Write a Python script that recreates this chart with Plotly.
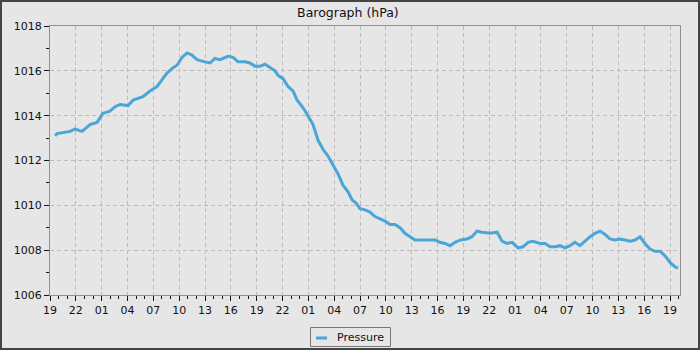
import plotly.graph_objects as go
import pandas as pd

start = pd.Timestamp("2024-01-01 19:00")

# hours since start
hours = [0.6, 0.81, 2.33, 2.91, 3.72, 4.65, 5.46, 6.15, 6.96, 7.55, 8.13, 9.06, 9.65, 10.8, 11.61,
         12.42, 13.0, 13.59, 14.16, 14.75, 15.33, 15.92, 16.49, 17.07, 18.0, 18.59, 19.16, 19.74,
         20.67, 21.26, 21.83, 22.65, 23.22, 23.81, 24.39, 24.96, 25.55, 26.13, 26.48, 27.06,
         27.65, 28.22, 28.68, 29.39, 29.96, 30.54, 31.13, 31.7, 32.28, 32.87, 33.45, 34.02,
         34.61, 35.07, 35.54, 36.0, 36.59, 37.16, 37.74, 38.33, 38.9, 39.48, 40.07, 40.65,
         41.22, 41.81, 42.39, 43.55, 44.72, 45.29, 45.87, 46.46, 47.03, 47.61, 48.42, 49.0,
         49.59, 50.16, 51.09, 51.92, 52.49, 53.07, 53.66, 54.35, 54.93, 55.52, 56.09, 56.9,
         57.48, 58.07, 58.65, 59.22, 59.81, 60.39, 60.96, 61.55, 62.13, 62.72, 63.29, 63.87,
         64.46, 65.03, 65.61, 66.2, 66.77, 67.35, 67.94, 68.52, 69.09, 69.68, 70.26, 70.85,
         71.42, 72.0, 72.59, 72.93]

pressure = [1013.1, 1013.2, 1013.3, 1013.4, 1013.3, 1013.6, 1013.7, 1014.1, 1014.2, 1014.4, 1014.5,
            1014.45, 1014.7, 1014.85, 1015.1, 1015.3, 1015.6, 1015.9, 1016.1, 1016.25, 1016.6,
            1016.8, 1016.7, 1016.5, 1016.4, 1016.35, 1016.55, 1016.5, 1016.65, 1016.6, 1016.4,
            1016.4, 1016.35, 1016.2, 1016.2, 1016.3, 1016.15, 1016.0, 1015.8, 1015.65, 1015.3,
            1015.1, 1014.7, 1014.35, 1014.0, 1013.6, 1012.9, 1012.5, 1012.2, 1011.8, 1011.4,
            1010.9, 1010.6, 1010.25, 1010.1, 1009.85, 1009.8, 1009.7, 1009.5, 1009.4, 1009.3,
            1009.15, 1009.15, 1009.0, 1008.75, 1008.6, 1008.45, 1008.45, 1008.45, 1008.35,
            1008.3, 1008.2, 1008.35, 1008.45, 1008.5, 1008.6, 1008.85, 1008.8, 1008.75, 1008.8,
            1008.4, 1008.3, 1008.35, 1008.1, 1008.15, 1008.35, 1008.4, 1008.3, 1008.3, 1008.15,
            1008.15, 1008.2, 1008.1, 1008.2, 1008.35, 1008.2, 1008.4, 1008.6, 1008.75, 1008.85,
            1008.7, 1008.5, 1008.45, 1008.5, 1008.45, 1008.4, 1008.45, 1008.6, 1008.3, 1008.05,
            1007.95, 1007.95, 1007.75, 1007.45, 1007.25, 1007.2]

series_name = "Pressure"

times = [start + pd.Timedelta(hours=h) for h in hours]
x_end = start + pd.Timedelta(hours=73.16)

BG = "#e6e6e6"
LINE = "#4aa6d6"
fig = go.Figure()
fig.add_trace(go.Scatter(x=times, y=pressure, mode="lines", name=series_name, showlegend=False,
                         line=dict(color=LINE, width=3, shape="linear")))

L, R, T, B = 50, 20, 26, 55
W, H = 700 - L - R, 350 - T - B


def px(xp):
    return (xp - L) / W


def py(yp):
    return (T + H - yp) / H


shapes = [
    # outer frame
    dict(type="rect", xref="paper", yref="paper",
         x0=px(1), x1=px(699), y0=py(349), y1=py(1),
         line=dict(color="#444", width=2), fillcolor="rgba(0,0,0,0)", layer="above"),
    # legend box
    dict(type="rect", xref="paper", yref="paper",
         x0=px(310.5), x1=px(390.5), y0=py(346.5), y1=py(327.5),
         line=dict(color="#777", width=1), fillcolor=BG, layer="above"),
    # legend line symbol
    dict(type="line", xref="paper", yref="paper",
         x0=px(316), x1=px(327), y0=py(338), y1=py(338),
         line=dict(color=LINE, width=3), layer="above"),
]

annotations = [
    dict(text=series_name, xref="paper", yref="paper", x=px(335), y=py(337.5),
         xanchor="left", yanchor="middle", showarrow=False,
         font=dict(family="DejaVu Sans", size=11, color="#111")),
]

fig.update_layout(
    width=700, height=350, autosize=False,
    margin=dict(l=L, r=R, t=T, b=B, autoexpand=False),
    paper_bgcolor=BG, plot_bgcolor=BG,
    font=dict(family="DejaVu Sans", size=11, color="#111"),
    title=dict(text="Barograph (hPa)", x=0.497, xref="container", y=0.965, yref="container",
               xanchor="center", yanchor="middle", font=dict(size=12.5, color="#111")),
    showlegend=False,
    xaxis=dict(type="date", range=[start, x_end], tickformat="%H", dtick=3 * 3600000,
               tick0=start, ticks="outside", ticklen=5, tickcolor="#111", tickangle=0,
               showgrid=True, gridcolor="#bcbcbc", griddash="4px,3px", gridwidth=1,
               showline=True, linecolor="#909090", linewidth=1, mirror=True,
               zeroline=False, automargin=False,
               minor=dict(dtick=3600000, ticks="outside", ticklen=3, tickcolor="#111", showgrid=False)),
    yaxis=dict(range=[1006, 1018], dtick=2, tick0=1006, ticks="outside", ticklen=5, tickcolor="#111",
               showgrid=True, gridcolor="#bcbcbc", griddash="4px,3px", gridwidth=1,
               showline=True, linecolor="#909090", linewidth=1, mirror=True, zeroline=False,
               automargin=False,
               minor=dict(dtick=1, ticks="outside", ticklen=3, tickcolor="#111", showgrid=False)),
    shapes=shapes,
    annotations=annotations,
)

fig.write_html("out.html", config={"responsive": False})
